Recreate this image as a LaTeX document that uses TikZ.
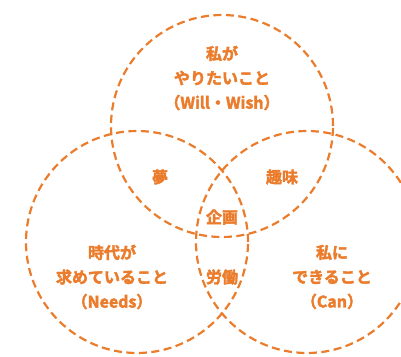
\documentclass[tikz,border=0pt]{standalone}
\usepackage{fontspec}
\usepackage{tikz}
\newfontfamily\jpfont{Noto Sans CJK JP}[BoldFont={Noto Sans CJK JP Bold}, BoldFeatures={FakeBold=2.5}]
\definecolor{vennOrange}{RGB}{234,124,44}
\tikzstyle{canvas} = [x = 1pt, y = -1pt]
\tikzstyle{vennCircle} = [circle, draw=vennOrange, line width=2.2pt, dash pattern=on 8pt off 4.5pt, minimum size=222pt, inner sep=0pt]
\tikzstyle{vennText} = [text=vennOrange, align=center, inner sep=0pt, font=\jpfont\bfseries\fontsize{16}{24.5}\selectfont]

\begin{document}
\begin{tikzpicture}[canvas]
  \useasboundingbox (0,0) rectangle (401,356);
  \clip (0,0) rectangle (401,356);
  % circles
  \node [vennCircle] (will) at (222,126) {};
  \node [vennCircle] (needs) at (137,242) {};
  \node [vennCircle] (can) at (307,242) {};
  % labels
  \node [vennText] (willText) at (will.center |- 0,78) {私が\\やりたいこと\\（Will・Wish）};
  \node [vennText] (needsText) at (112,277) {時代が\\求めていること\\（Needs）};
  \node [vennText] (canText) at (332,277) {私に\\できること\\（Can）};
  \node [vennText] (dream) at (160,177) {夢};
  \node [vennText] (hobby) at (282,177) {趣味};
  \node [vennText] (plan) at (222,217) {企画};
  \node [vennText] (labor) at (222,277) {労働};
\end{tikzpicture}
\end{document}
